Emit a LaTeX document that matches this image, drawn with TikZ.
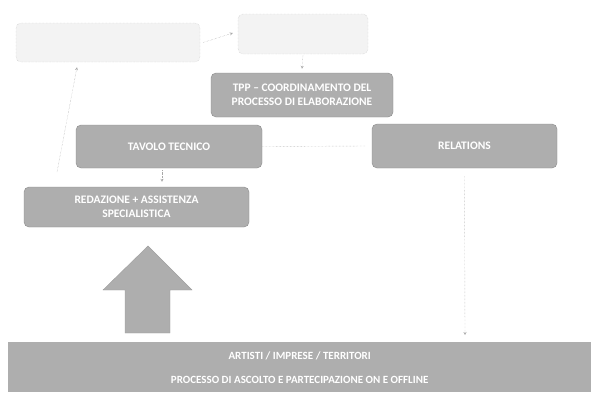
\documentclass[tikz,border=0pt]{standalone}
\usepackage{fontspec}
\setmainfont{Carlito}
\usetikzlibrary{arrows.meta}
\definecolor{boxgray}{HTML}{AEAEAE}
\definecolor{palegray}{HTML}{F3F3F3}
\definecolor{linegray}{HTML}{A8A8A8}
\tikzset{
  px/.style={x=1pt,y=-1pt},
  graybox/.style={draw=boxgray!80!black, fill=boxgray, rounded corners=5pt, text=white, font=\bfseries\fontsize{11.5}{13}\selectfont, align=center, inner sep=0pt},
  palebox/.style={draw=linegray!70, densely dotted, fill=palegray, rounded corners=5pt, inner sep=0pt},
  conn/.style={draw=linegray, densely dotted, -{Stealth[length=3pt,width=3pt,open]}},
  plain/.style={draw=linegray, densely dotted},
  bigarrow/.style={fill=boxgray, draw=boxgray!90!black},
  band/.style={fill=boxgray, draw=none, text=white, font=\bfseries\fontsize{11}{24}\selectfont, align=center, inner sep=0pt}
}
\begin{document}
\begin{tikzpicture}[px]
\useasboundingbox (0,0) rectangle (591,392);
% top pale boxes
\node[palebox, minimum width=184pt, minimum height=39pt] (a) at (108,42.5) {};
\node[palebox, minimum width=130pt, minimum height=40pt] (b) at (303,34) {};
% main boxes
\node[graybox, minimum width=182pt, minimum height=44pt] (tpp) at (302,95) {TPP -- COORDINAMENTO DEL\\[1pt]PROCESSO DI ELABORAZIONE};
\node[graybox, minimum width=186pt, minimum height=43pt] (tav) at (169,146.5) {TAVOLO TECNICO};
\node[graybox, minimum width=185pt, minimum height=44pt] (rel) at (464.5,146) {RELATIONS};
\node[graybox, minimum width=225pt, minimum height=40pt] (red) at (136.5,207) {REDAZIONE + ASSISTENZA\\[1pt]SPECIALISTICA};
% bottom band
\node[band, minimum width=583pt, minimum height=50pt, anchor=north west] (bot) at (8,342) {ARTISTI / IMPRESE / TERRITORI\\PROCESSO DI ASCOLTO E PARTECIPAZIONE ON E OFFLINE};
% connectors
\draw[conn] ([xshift=3pt]a.east) -- ([xshift=-5pt,yshift=1pt]b.west);
\draw[conn] ([yshift=-1pt]b.south) -- ([yshift=4pt]tpp.north);
\draw[plain] (tav.east) -- ([xshift=-6pt]rel.west);
\draw[conn] ([xshift=-7pt,yshift=-2pt]tav.south) -- ([xshift=25.5pt,yshift=5pt]red.north);
\coordinate (lft) at (57,172);
\draw[conn] (lft) -- ([xshift=-31pt,yshift=-5pt]a.south);
\coordinate (rb) at (465,335);
\draw[conn] ([yshift=-8pt]rel.south) -- (rb);
% big up arrow
\fill[bigarrow] (125,333) -- (125,290) -- (103,290) -- (148,246) -- (192,290) -- (170,290) -- (170,333) -- cycle;
\end{tikzpicture}
\end{document}
